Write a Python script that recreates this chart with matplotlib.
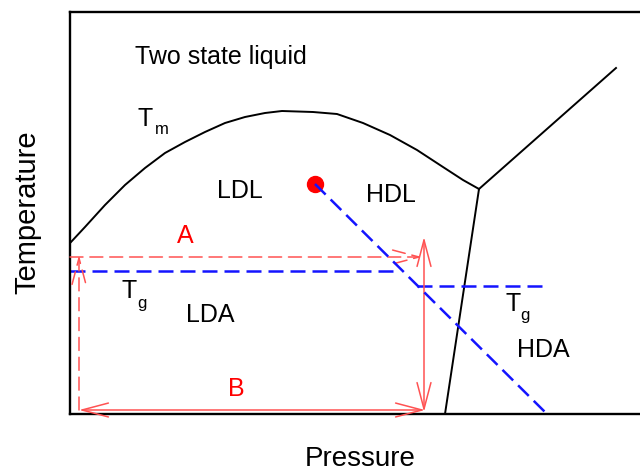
import matplotlib
matplotlib.use("Agg")
import matplotlib.pyplot as plt

plt.rcParams['font.family'] = ['Liberation Sans', 'DejaVu Sans']

# melting line T_m (pressure, temperature) in arbitrary units
tm_p = [0, 1, 15, 35, 55, 75, 95, 115, 135, 155, 175, 195, 212, 243, 267, 293, 320, 347, 373, 393, 409]
tm_t = [171, 172, 187, 209, 229, 246, 261, 272, 282, 291, 297, 301, 303, 302, 300, 291, 279, 264, 247, 234, 225]

# other phase boundaries from the triple point
upper_p = [409, 546]
upper_t = [225, 346]
lower_p = [409, 375]
lower_t = [225, 0]

# liquid-liquid critical point and Widom / coexistence line
crit_p, crit_t = 245, 230
llcp_p = [245, 477]
llcp_t = [230, 0]

# glass transition lines
tg_lda_p = [0, 327]
tg_lda_t = [143, 143]
tg_hda_p = [347, 478]
tg_hda_t = [128, 128]

# paths A (dashed) and B (solid): (start, end) per leg
path_a = [((9, 4), (9, 159)), ((0, 157), (352, 157))]
path_b = [((9, 4), (355, 4)), ((354, 2), (354, 177))]

red = '#ff0000'
light_red = '#ff5252'
blue = '#1414ff'

fig = plt.figure(figsize=(6.4, 4.73), dpi=100)
ax = fig.add_axes([70 / 640, 59 / 473, 600 / 640, 402 / 473])
ax.set_xlim(0, 600)
ax.set_ylim(0, 402)
ax.set_xticks([])
ax.set_yticks([])
ax.spines['right'].set_visible(False)
for s in ['left', 'top', 'bottom']:
    ax.spines[s].set_linewidth(1.7)

ax.plot(tm_p, tm_t, color='black', lw=1.4)
ax.plot(upper_p, upper_t, color='black', lw=1.4)
ax.plot(lower_p, lower_t, color='black', lw=1.4)

ax.plot([crit_p], [crit_t], 'o', color=red, ms=11.5, zorder=3)
ax.plot(llcp_p, llcp_t, color=blue, lw=1.8, dashes=(6, 2.8), zorder=4)
ax.plot(tg_lda_p, tg_lda_t, color=blue, lw=1.8, dashes=(6, 2.8))
ax.plot(tg_hda_p, tg_hda_t, color=blue, lw=1.8, dashes=(6, 2.8))

for start, end in path_a:
    ax.annotate('', xy=end, xytext=start,
                arrowprops=dict(arrowstyle='->,head_length=1.9,head_width=0.5',
                                color=light_red, lw=1.1, linestyle=(0, (8.5, 4.5)),
                                shrinkA=0, shrinkB=0, mutation_scale=10))
for start, end in path_b:
    ax.annotate('', xy=end, xytext=start,
                arrowprops=dict(arrowstyle='<->,head_length=1.9,head_width=0.5',
                                color=light_red, lw=1.1,
                                shrinkA=0, shrinkB=0, mutation_scale=10))

fs = 18
sub = 12
ax.text(65, 350, 'Two state liquid', fontsize=fs, va='baseline')
ax.text(68, 288, 'T', fontsize=fs, va='baseline')
ax.text(85, 280, 'm', fontsize=sub, va='baseline')
ax.text(147, 216, 'LDL', fontsize=fs, va='baseline')
ax.text(296, 212, 'HDL', fontsize=fs, va='baseline')
ax.text(107, 171, 'A', fontsize=fs, va='baseline', color=red)
ax.text(52, 116, 'T', fontsize=fs, va='baseline')
ax.text(67, 106, 'g', fontsize=sub, va='baseline')
ax.text(116, 92, 'LDA', fontsize=fs, va='baseline')
ax.text(435, 103, 'T', fontsize=fs, va='baseline')
ax.text(450, 94, 'g', fontsize=sub, va='baseline')
ax.text(447, 57, 'HDA', fontsize=fs, va='baseline')
ax.text(158, 18, 'B', fontsize=fs, va='baseline', color=red)

fig.text(360 / 640, 1 / 473, 'Pressure', fontsize=20, ha='center', va='bottom')
fig.text(27 / 640, (473 - 212) / 473, 'Temperature', fontsize=21, rotation=90,
         ha='center', va='center')

fig.savefig('out.png', dpi=100)
